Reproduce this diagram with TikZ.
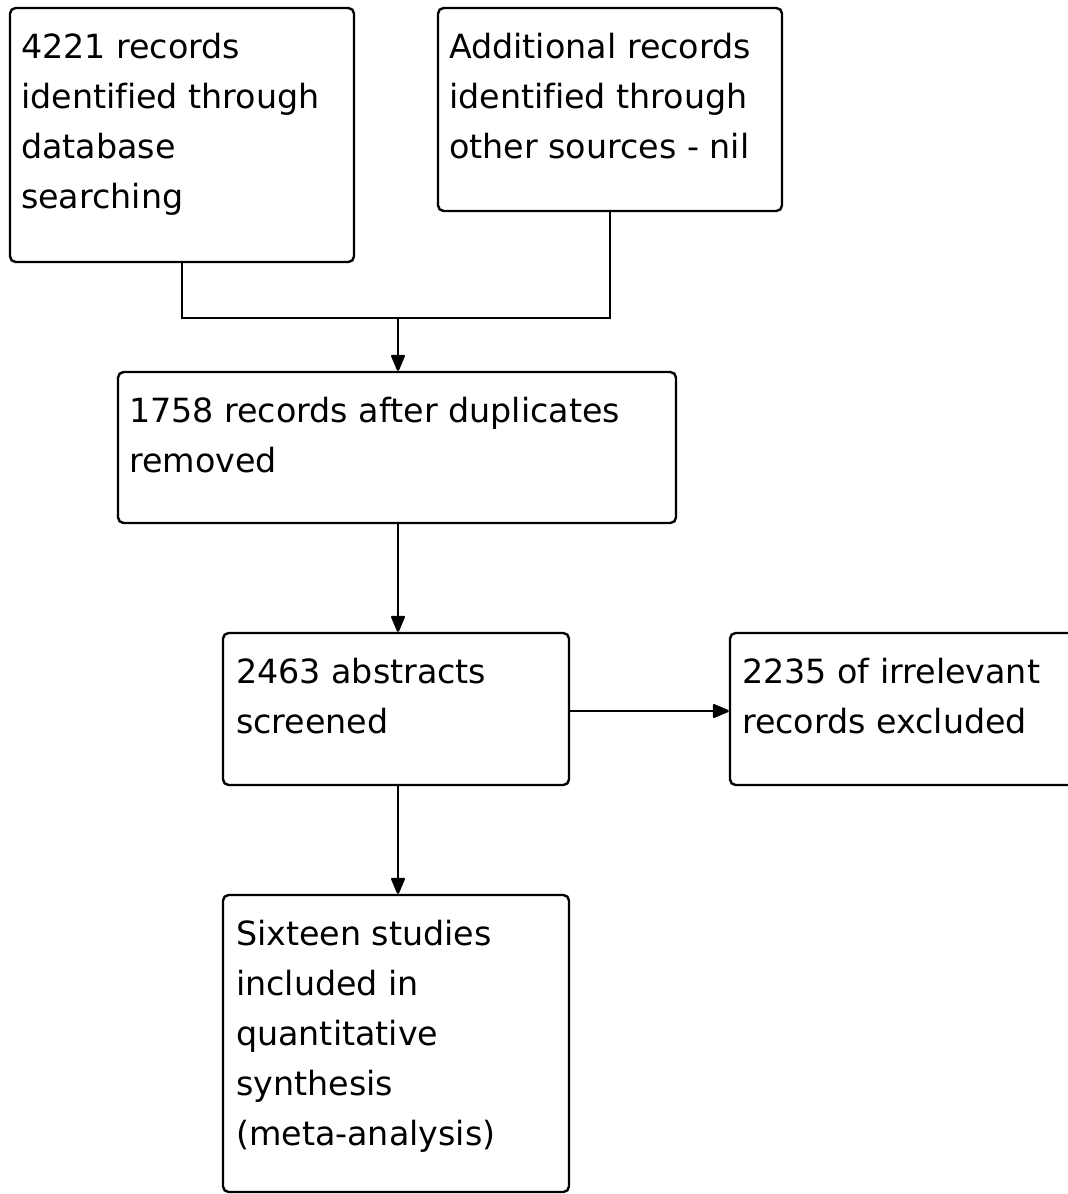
\documentclass[tikz,border=0pt]{standalone}
\usepackage{fontspec}
\setmainfont[Ligatures=NoCommon]{DejaVu Sans}
\usetikzlibrary{arrows.meta}
\newlength\px \setlength\px{0.025cm}

\begin{document}
\begin{tikzpicture}[x=0.025cm,y=-0.025cm]
  \tikzset{box/.style = {draw, line width=1.7pt, rounded corners=0.14cm, inner sep=0pt},
           txt/.style = {anchor=north west, align=left, inner sep=0pt, font=\fontsize{23.7}{35.6}\selectfont},
           arr/.style = {line width=1.7pt, -{Triangle[length=0.45cm,width=0.36cm,round]}}}
  \useasboundingbox (0,0) rectangle (1067,1194);

  \node[box, minimum width=344\px, minimum height=254\px] (records) at (182,135) {};
  \node[box, minimum width=344\px, minimum height=203\px] (other) at (610,109.5) {};
  \node[box, minimum width=558\px, minimum height=151\px] (dupl) at (397,447.5) {};
  \node[box, minimum width=346\px, minimum height=152\px] (screened) at (396,709) {};
  \node[box, minimum width=350\px, minimum height=152\px] (excluded) at (905,709) {};
  \node[box, minimum width=346\px, minimum height=297\px] (included) at (396,1043.5) {};

  \node[txt] (recordstxt) at ([shift={(12\px,-26\px)}]records.north west) {4221 records\\identified through\\database\\searching};
  \node[txt] (othertxt) at ([shift={(12\px,-26\px)}]other.north west) {Additional records\\identified through\\other sources - nil};
  \node[txt] (dupltxt) at ([shift={(12\px,-26\px)}]dupl.north west) {1758 records after duplicates\\removed};
  \node[txt] (screenedtxt) at ([shift={(14\px,-26\px)}]screened.north west) {2463 abstracts\\screened};
  \node[txt] (excludedtxt) at ([shift={(13\px,-26\px)}]excluded.north west) {2235 of irrelevant\\records excluded};
  \node[txt] (includedtxt) at ([shift={(14\px,-26\px)}]included.north west) {Sixteen studies\\included in\\quantitative\\synthesis\\(meta-analysis)};

  \coordinate (join) at ([xshift=1\px]dupl.north |- 0,318);
  \draw[line width=1.7pt] (records.south) |- (join) -| (other.south);
  \draw[arr] (join) -- (join |- dupl.north);
  \draw[arr] ([xshift=1\px]dupl.south) -- ([xshift=1\px]dupl.south |- screened.north);
  \draw[arr] ([yshift=-2\px]screened.east) -- ([yshift=-2\px]screened.east -| excluded.west);
  \draw[arr] ([xshift=2\px]screened.south) -- ([xshift=2\px]screened.south |- included.north);
\end{tikzpicture}
\end{document}
